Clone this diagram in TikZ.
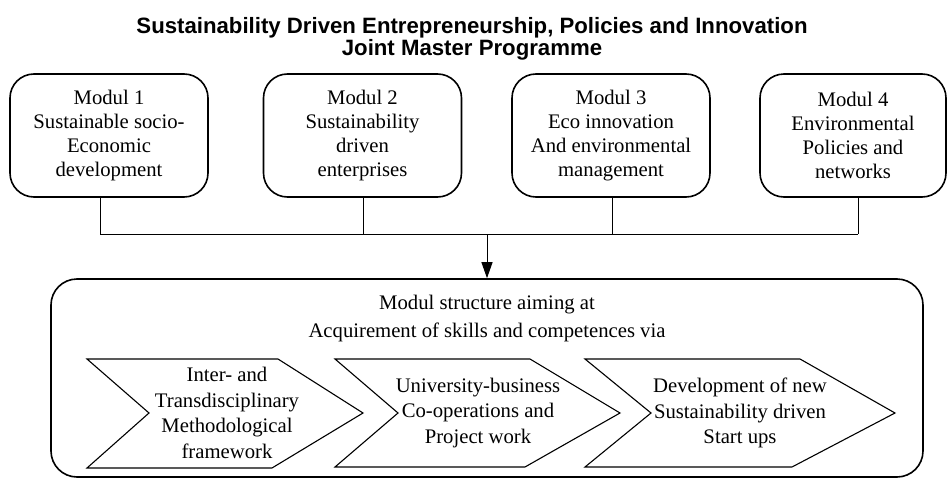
\documentclass[tikz,border=0pt]{standalone}
\usepackage{fontspec}
\setmainfont{Liberation Serif}
\newfontfamily\titlefont{Liberation Sans}
\usetikzlibrary{arrows.meta}

\tikzset{
  titletext/.style={align=center, font=\titlefont\bfseries\fontsize{22.2}{20}\selectfont},
  modbox/.style={draw, line width=1.6pt, rounded corners=24pt, minimum width=198pt,
    minimum height=123pt, align=center, font=\fontsize{20.7}{24}\selectfont},
  bigbox/.style={draw, line width=1.6pt, rounded corners=26pt, minimum width=872pt,
    minimum height=198pt},
  headtext/.style={align=center, font=\fontsize{20.7}{28}\selectfont},
  chevtext/.style={align=center, font=\fontsize{20.7}{25.5}\selectfont},
  chev/.style={line width=1.1pt, line join=miter},
  conn/.style={line width=1pt}
}

\begin{document}
\begin{tikzpicture}[x=1pt,y=-1pt]
  \useasboundingbox (0,0) rectangle (948,479);
  % Titel
  \node[titletext] (title) at (472,39) {Sustainability Driven Entrepreneurship, Policies and Innovation\\Joint Master Programme};
  % Module
  \node[modbox] (m1) at (109,135.5) {Modul 1\\Sustainable socio-\\Economic\\development};
  \node[modbox] (m2) at (362.5,135.5) {Modul 2\\Sustainability\\driven\\enterprises};
  \node[modbox] (m3) at (611,135.5) {Modul 3\\Eco innovation\\And environmental\\management};
  \node[modbox, minimum width=186pt] (m4) at (853,135.5) {Modul 4\\Environmental\\Policies and\\networks};
  % Sammelleitung
  \coordinate (b1) at (100,234);
  \coordinate (b2) at (363,234);
  \coordinate (b3) at (612,234);
  \coordinate (b4) at (858,234);
  \coordinate (bm) at (487,234);
  \foreach \i in {1,...,4}
    \draw[conn] (m\i.south -| b\i) -- (b\i);
  \draw[conn] (b1) -- (b4);
  % Modulstruktur
  \node[bigbox] (struct) at (487,378) {};
  \draw[conn, -{Triangle[length=16pt,width=11pt]}] (bm) -- (struct.north);
  \node[headtext] (head) at (487,319) {Modul structure aiming at\\Acquirement of skills and competences via};
  % Pfeile
  \draw[chev] (87,359) -- (278,359) -- (363,413) -- (272,468) -- (87,468) -- (149,413) -- cycle;
  \draw[chev] (335,359) -- (530,359) -- (620,413) -- (525,467) -- (335,467) -- (398,413) -- cycle;
  \draw[chev] (585,359) -- (800,359) -- (895,413) -- (792,467) -- (585,467) -- (651,413) -- cycle;
  \node[chevtext] (c1) at (227,413) {Inter- and\\Transdisciplinary\\Methodological\\framework};
  \node[chevtext] (c2) at (478,413) {University-business\\Co-operations and\\Project work};
  \node[chevtext] (c3) at (740,413) {Development of new\\Sustainability driven\\Start ups};
\end{tikzpicture}
\end{document}
